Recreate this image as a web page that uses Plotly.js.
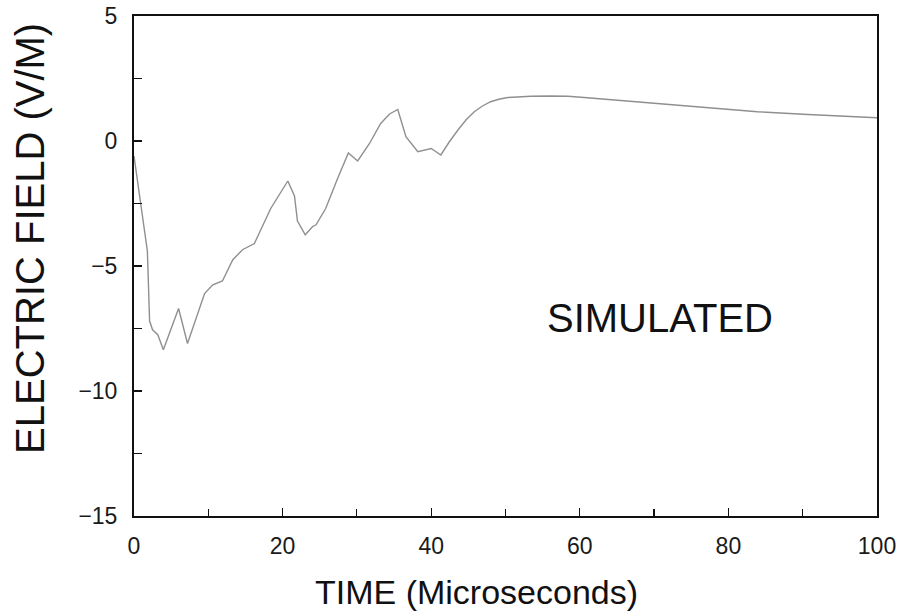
<!DOCTYPE html>
<html>
<head>
<meta charset="utf-8">
<script src="https://cdn.plot.ly/plotly-3.0.1.min.js"></script>
<style>
  html, body { margin: 0; padding: 0; background: #ffffff; }
  #chart { width: 901px; height: 612px; }
</style>
</head>
<body>
<div id="chart"></div>
<script>
// Time in microseconds
const timeUs = [0, 1.8, 2.1, 2.5, 3.2, 3.95, 6.0, 7.2, 9.5, 10.6, 11.9, 13.3, 14.6, 16.2, 18.4,
  20.7, 21.6, 22.0, 23.05, 24.05, 24.5, 25.8, 27.4, 28.85, 30.1, 31.7, 33.2, 34.4, 35.5,
  36.6, 38.2, 40.0, 41.3, 42.4, 43.6, 44.7, 45.8, 46.9, 48.0, 49.1, 50.3, 51.8, 53.4, 56.0,
  58.4, 61.0, 63.8, 67.0, 70.5, 77.2, 83.9, 90.7, 100];
// Simulated electric field in V/M
const fieldVM = [-0.6, -4.4, -7.2, -7.55, -7.75, -8.35, -6.7, -8.1, -6.1, -5.75, -5.6, -4.75, -4.35, -4.1, -2.7,
  -1.6, -2.2, -3.2, -3.75, -3.42, -3.35, -2.7, -1.5, -0.48, -0.8, -0.1, 0.7, 1.08, 1.26,
  0.17, -0.43, -0.3, -0.56, -0.05, 0.44, 0.85, 1.17, 1.4, 1.57, 1.67, 1.74, 1.77, 1.79, 1.8,
  1.79, 1.73, 1.66, 1.58, 1.5, 1.33, 1.17, 1.06, 0.93];

const xTitle = 'TIME (Microseconds)';
const yTitle = 'ELECTRIC FIELD (V/M)';
const label = 'SIMULATED';

const FONT = 'Liberation Sans, Arial, Helvetica, sans-serif';

const trace = {
  x: timeUs,
  y: fieldVM,
  type: 'scatter',
  mode: 'lines',
  line: { color: '#8f8f8f', width: 1.4 },
  hoverinfo: 'skip'
};

const axisCommon = {
  showline: true,
  mirror: true,
  linecolor: '#111111',
  linewidth: 2,
  ticks: 'inside',
  ticklen: 8,
  tickwidth: 1.3,
  tickcolor: '#111111',
  showgrid: false,
  zeroline: false,
  tickfont: { family: FONT, size: 23, color: '#1a1a1a' },
  fixedrange: true
};

const layout = {
  width: 901,
  height: 612,
  margin: { l: 134, r: 24, t: 16, b: 96 },
  paper_bgcolor: '#ffffff',
  plot_bgcolor: '#ffffff',
  showlegend: false,
  xaxis: Object.assign({}, axisCommon, {
    range: [0, 100],
    tick0: 0,
    dtick: 20,
    ticklabelstandoff: 8,
    minor: { dtick: 10, ticks: 'inside', ticklen: 7, tickwidth: 1.2, tickcolor: '#111111' }
  }),
  yaxis: Object.assign({}, axisCommon, {
    range: [-15, 5],
    tick0: 0,
    dtick: 5,
    ticklabelstandoff: 10,
    minor: { dtick: 2.5, ticks: 'inside', ticklen: 8, tickwidth: 1.2, tickcolor: '#111111' }
  }),
  annotations: [
    {
      text: xTitle, xref: 'paper', yref: 'paper',
      x: 0.4616, y: -0.152, xanchor: 'center', yanchor: 'middle',
      showarrow: false, font: { family: FONT, size: 34, color: '#111111' }
    },
    {
      text: yTitle, xref: 'paper', yref: 'paper',
      x: -0.140, y: 0.556, xanchor: 'center', yanchor: 'middle', textangle: -90,
      showarrow: false, font: { family: FONT, size: 40, color: '#111111' }
    },
    {
      text: label, xref: 'x', yref: 'y',
      x: 70.8, y: -7.08, xanchor: 'center', yanchor: 'middle',
      showarrow: false, font: { family: FONT, size: 40, color: '#111111' }
    }
  ]
};

Plotly.newPlot('chart', [trace], layout, { displayModeBar: false, staticPlot: true });
</script>
</body>
</html>
